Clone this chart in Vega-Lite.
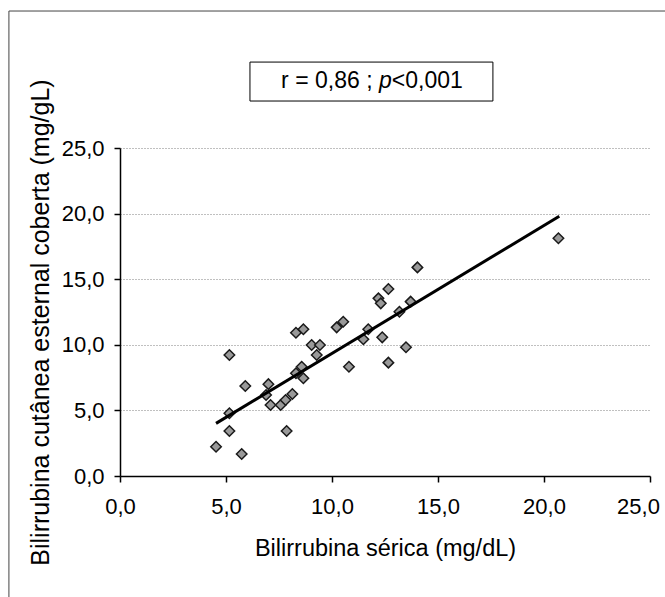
{
  "$schema": "https://vega.github.io/schema/vega-lite/v6.json",
  "width": 530,
  "height": 328,
  "autosize": {"type": "none"},
  "padding": {"left": 120, "top": 148, "right": 15, "bottom": 121},
  "background": "white",
  "config": {
    "view": {"stroke": null},
    "font": "Liberation Sans",
    "axis": {
      "labelFont": "Liberation Sans",
      "titleFont": "Liberation Sans",
      "labelFontSize": 22,
      "titleFontSize": 23.5,
      "titleFontWeight": "normal",
      "labelColor": "black",
      "titleColor": "black",
      "domainColor": "black",
      "domainWidth": 1.5,
      "tickColor": "black",
      "tickWidth": 1.5,
      "tickSize": 6,
      "labelFlush": false,
      "labelOverlap": false
    }
  },
  "datasets": {
    "points": [
      {"serica": 4.53, "cutanea": 2.23},
      {"serica": 5.16, "cutanea": 9.22},
      {"serica": 5.16, "cutanea": 4.78},
      {"serica": 5.16, "cutanea": 3.43},
      {"serica": 5.74, "cutanea": 1.68},
      {"serica": 5.91, "cutanea": 6.86},
      {"serica": 6.89, "cutanea": 6.17},
      {"serica": 7.0, "cutanea": 7.0},
      {"serica": 7.1, "cutanea": 5.41},
      {"serica": 7.58, "cutanea": 5.41},
      {"serica": 7.81, "cutanea": 5.79},
      {"serica": 8.13, "cutanea": 6.25},
      {"serica": 7.86, "cutanea": 3.43},
      {"serica": 8.3, "cutanea": 10.92},
      {"serica": 8.65, "cutanea": 11.18},
      {"serica": 8.3, "cutanea": 7.83},
      {"serica": 8.57, "cutanea": 8.33},
      {"serica": 8.65, "cutanea": 7.45},
      {"serica": 9.04, "cutanea": 9.98},
      {"serica": 9.43, "cutanea": 9.98},
      {"serica": 9.28, "cutanea": 9.22},
      {"serica": 10.22, "cutanea": 11.33},
      {"serica": 10.53, "cutanea": 11.76},
      {"serica": 10.8, "cutanea": 8.33},
      {"serica": 11.48, "cutanea": 10.42},
      {"serica": 11.71, "cutanea": 11.18},
      {"serica": 12.37, "cutanea": 10.57},
      {"serica": 12.19, "cutanea": 13.54},
      {"serica": 12.3, "cutanea": 13.16},
      {"serica": 12.66, "cutanea": 14.25},
      {"serica": 12.66, "cutanea": 8.64},
      {"serica": 13.18, "cutanea": 12.52},
      {"serica": 13.49, "cutanea": 9.81},
      {"serica": 13.71, "cutanea": 13.29},
      {"serica": 14.03, "cutanea": 15.9},
      {"serica": 20.68, "cutanea": 18.12}
    ],
    "trend": [
      {"serica": 4.53, "cutanea": 4.01},
      {"serica": 20.72, "cutanea": 19.8}
    ],
    "note": [
      {"label": "r = 0,86 ; p<0,001"}
    ]
  },
  "layer": [
    {
      "data": {"name": "note"},
      "mark": {"type": "rule", "color": "#444444", "strokeWidth": 1},
      "encoding": {
        "x": {"datum": -5.24, "type": "quantitative", "scale": {"domain": [0, 25], "nice": false}},
        "y": {"datum": 35.44, "type": "quantitative", "scale": {"domain": [0, 25], "nice": false}},
        "y2": {"datum": -12}
      }
    },
    {
      "data": {"name": "note"},
      "mark": {"type": "rule", "color": "#444444", "strokeWidth": 1},
      "encoding": {
        "x": {"datum": -5.24, "type": "quantitative", "scale": {"domain": [0, 25], "nice": false}},
        "x2": {"datum": 32},
        "y": {"datum": 35.44, "type": "quantitative", "scale": {"domain": [0, 25], "nice": false}}
      }
    },
    {
      "data": {"name": "points"},
      "mark": {"type": "point", "shape": "diamond", "filled": true, "size": 110, "fill": "#999999", "stroke": "#1a1a1a", "strokeWidth": 1.5, "opacity": 1},
      "encoding": {
        "x": {
          "field": "serica", "type": "quantitative",
          "scale": {"domain": [0, 25], "nice": false},
          "axis": {
            "title": "Bilirrubina sérica (mg/dL)",
            "values": [0, 5, 10, 15, 20, 25],
            "labelExpr": "replace(format(datum.value, '.1f'), '.', ',')",
            "labelOffset": {"condition": {"test": "datum.value === 25", "value": -12}, "value": 0},
            "grid": false,
            "labelPadding": 14,
            "titlePadding": 19
          }
        },
        "y": {
          "field": "cutanea", "type": "quantitative",
          "scale": {"domain": [0, 25], "nice": false},
          "axis": {
            "title": "Bilirrubina cutânea esternal coberta (mg/gL)",
            "values": [0, 5, 10, 15, 20, 25],
            "labelExpr": "replace(format(datum.value, '.1f'), '.', ',')",
            "grid": true,
            "gridColor": "#808080",
            "gridDash": [1, 2],
            "gridWidth": 1,
            "labelPadding": 10,
            "titlePadding": 8,
            "titleFontSize": 25,
            "titleY": 174
          }
        }
      }
    },
    {
      "data": {"name": "trend"},
      "mark": {"type": "line", "color": "black", "strokeWidth": 3},
      "encoding": {
        "x": {"field": "serica", "type": "quantitative", "scale": {"domain": [0, 25], "nice": false}},
        "y": {"field": "cutanea", "type": "quantitative", "scale": {"domain": [0, 25], "nice": false}}
      }
    },
    {
      "data": {"name": "note"},
      "mark": {"type": "rect", "fill": "white", "stroke": "black", "strokeWidth": 1},
      "encoding": {
        "x": {"datum": 6.13, "type": "quantitative", "scale": {"domain": [0, 25], "nice": false}},
        "x2": {"datum": 17.59},
        "y": {"datum": 31.55, "type": "quantitative", "scale": {"domain": [0, 25], "nice": false}},
        "y2": {"datum": 28.58}
      }
    },
    {
      "data": {"name": "note"},
      "mark": {"type": "text", "text": "r = 0,86 ;", "fontSize": 23, "align": "left", "baseline": "middle", "color": "black"},
      "encoding": {
        "x": {"datum": 7.6, "type": "quantitative", "scale": {"domain": [0, 25], "nice": false}},
        "y": {"datum": 30.1, "type": "quantitative", "scale": {"domain": [0, 25], "nice": false}}
      }
    },
    {
      "data": {"name": "note"},
      "mark": {"type": "text", "text": "p", "fontSize": 23, "fontStyle": "italic", "align": "left", "baseline": "middle", "color": "black"},
      "encoding": {
        "x": {"datum": 12.22, "type": "quantitative", "scale": {"domain": [0, 25], "nice": false}},
        "y": {"datum": 30.1, "type": "quantitative", "scale": {"domain": [0, 25], "nice": false}}
      }
    },
    {
      "data": {"name": "note"},
      "mark": {"type": "text", "text": "<0,001", "fontSize": 23, "align": "left", "baseline": "middle", "color": "black"},
      "encoding": {
        "x": {"datum": 12.82, "type": "quantitative", "scale": {"domain": [0, 25], "nice": false}},
        "y": {"datum": 30.1, "type": "quantitative", "scale": {"domain": [0, 25], "nice": false}}
      }
    }
  ]
}
